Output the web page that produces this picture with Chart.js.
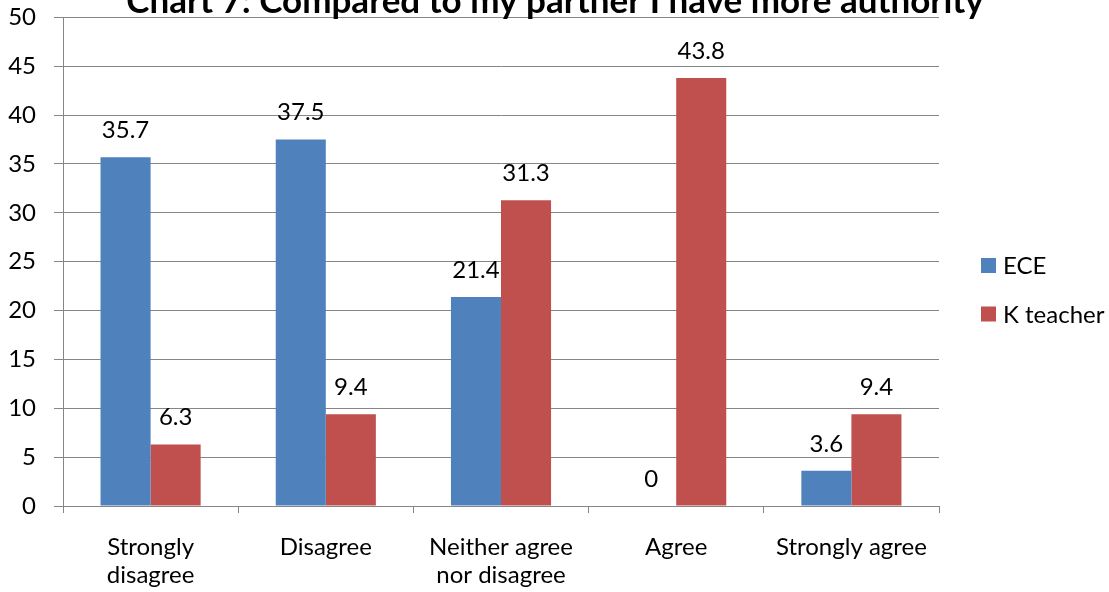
<!DOCTYPE html>
<html lang="en">
<head>
    <meta charset="UTF-8">
    <title>Chart 7</title>
    <script src="https://cdn.jsdelivr.net/npm/chart.js@4"></script>
    <style>
        body {
            margin: 0;
            background: white;
            overflow: hidden;
        }

        .container {
            width: 1109px;
            height: 592px;
            overflow: hidden;
        }

        /* canvas is a bit taller than the page; the title runs off the top */
        #chart {
            display: block;
            margin-top: -15px;
        }
    </style>
</head>
<body>
    <div class="container">
        <canvas id="chart" width="1109" height="607"></canvas>
    </div>

    <script>
        const categories = [['Strongly', 'disagree'], 'Disagree', ['Neither agree', 'nor disagree'], 'Agree', 'Strongly agree'];
        const seriesNames = ['ECE', 'K teacher'];
        const eceValues = [35.7, 37.5, 21.4, 0, 3.6];
        const kTeacherValues = [6.3, 9.4, 31.3, 43.8, 9.4];
        const yMax = 50;
        const yStep = 5;
        const titleText = 'Chart 7: Compared to my partner I have more authority';

        const FONT = 'Lato, "Open Sans", sans-serif';
        const gridColor = '#868686';
        const colors = ['#4F81BD', '#C0504D'];
        const shift = 15;

        const titlePlugin = {
            id: 'topTitle',
            afterDraw(chart) {
                const ctx = chart.ctx;
                ctx.save();
                ctx.font = 'bold 35px ' + FONT;
                ctx.fillStyle = '#000';
                ctx.textAlign = 'center';
                ctx.textBaseline = 'alphabetic';
                ctx.fillText(titleText, 555, 13 + shift);
                ctx.restore();
            }
        };

        // Value labels above each bar
        const valueLabels = {
            id: 'valueLabels',
            afterDatasetsDraw(chart) {
                const ctx = chart.ctx;
                ctx.save();
                ctx.font = '24px ' + FONT;
                ctx.fillStyle = '#000';
                ctx.textAlign = 'center';
                ctx.textBaseline = 'middle';
                chart.data.datasets.forEach((ds, i) => {
                    chart.getDatasetMeta(i).data.forEach((bar, j) => {
                        ctx.fillText(String(ds.data[j]), bar.x, bar.y - 27);
                    });
                });
                ctx.restore();
            }
        };

        // Legend on the right, boxes + names
        const sideLegend = {
            id: 'sideLegend',
            afterDraw(chart) {
                const ctx = chart.ctx;
                ctx.save();
                ctx.font = '24px ' + FONT;
                ctx.textBaseline = 'middle';
                ctx.textAlign = 'left';
                chart.data.datasets.forEach((ds, i) => {
                    const cy = 265.5 + shift + i * 48.5;
                    ctx.fillStyle = ds.backgroundColor;
                    ctx.fillRect(981, cy - 7.5, 15, 15);
                    ctx.fillStyle = '#000';
                    ctx.fillText(ds.label, 1003, cy + 1);
                });
                ctx.restore();
            }
        };

        new Chart(document.getElementById('chart'), {
            type: 'bar',
            data: {
                labels: categories,
                datasets: [{
                    label: seriesNames[0],
                    data: eceValues,
                    backgroundColor: colors[0]
                }, {
                    label: seriesNames[1],
                    data: kTeacherValues,
                    backgroundColor: colors[1]
                }]
            },
            options: {
                responsive: false,
                animation: false,
                devicePixelRatio: 1,
                layout: {
                    padding: { top: 2, right: 170, left: 0, bottom: 0 }
                },
                datasets: {
                    bar: {
                        barPercentage: 1,
                        categoryPercentage: 2 / 3.5
                    }
                },
                plugins: {
                    legend: { display: false },
                    title: { display: false },
                    tooltip: { enabled: false }
                },
                scales: {
                    x: {
                        grid: {
                            offset: true,
                            drawOnChartArea: false,
                            color: gridColor,
                            tickLength: 7
                        },
                        border: { color: gridColor },
                        ticks: {
                            color: '#000',
                            padding: 20,
                            maxRotation: 0,
                            autoSkip: false,
                            font: { family: FONT, size: 24, lineHeight: 1.17 }
                        },
                        afterFit(scale) {
                            scale.height = 86;
                        }
                    },
                    y: {
                        min: 0,
                        max: yMax,
                        grid: {
                            color: gridColor,
                            tickLength: 9
                        },
                        border: { color: gridColor },
                        ticks: {
                            stepSize: yStep,
                            color: '#000',
                            padding: 18,
                            font: { family: FONT, size: 24 }
                        },
                        afterFit(scale) {
                            scale.width = 63;
                        }
                    }
                }
            },
            plugins: [valueLabels, sideLegend, titlePlugin]
        });
    </script>
</body>
</html>
